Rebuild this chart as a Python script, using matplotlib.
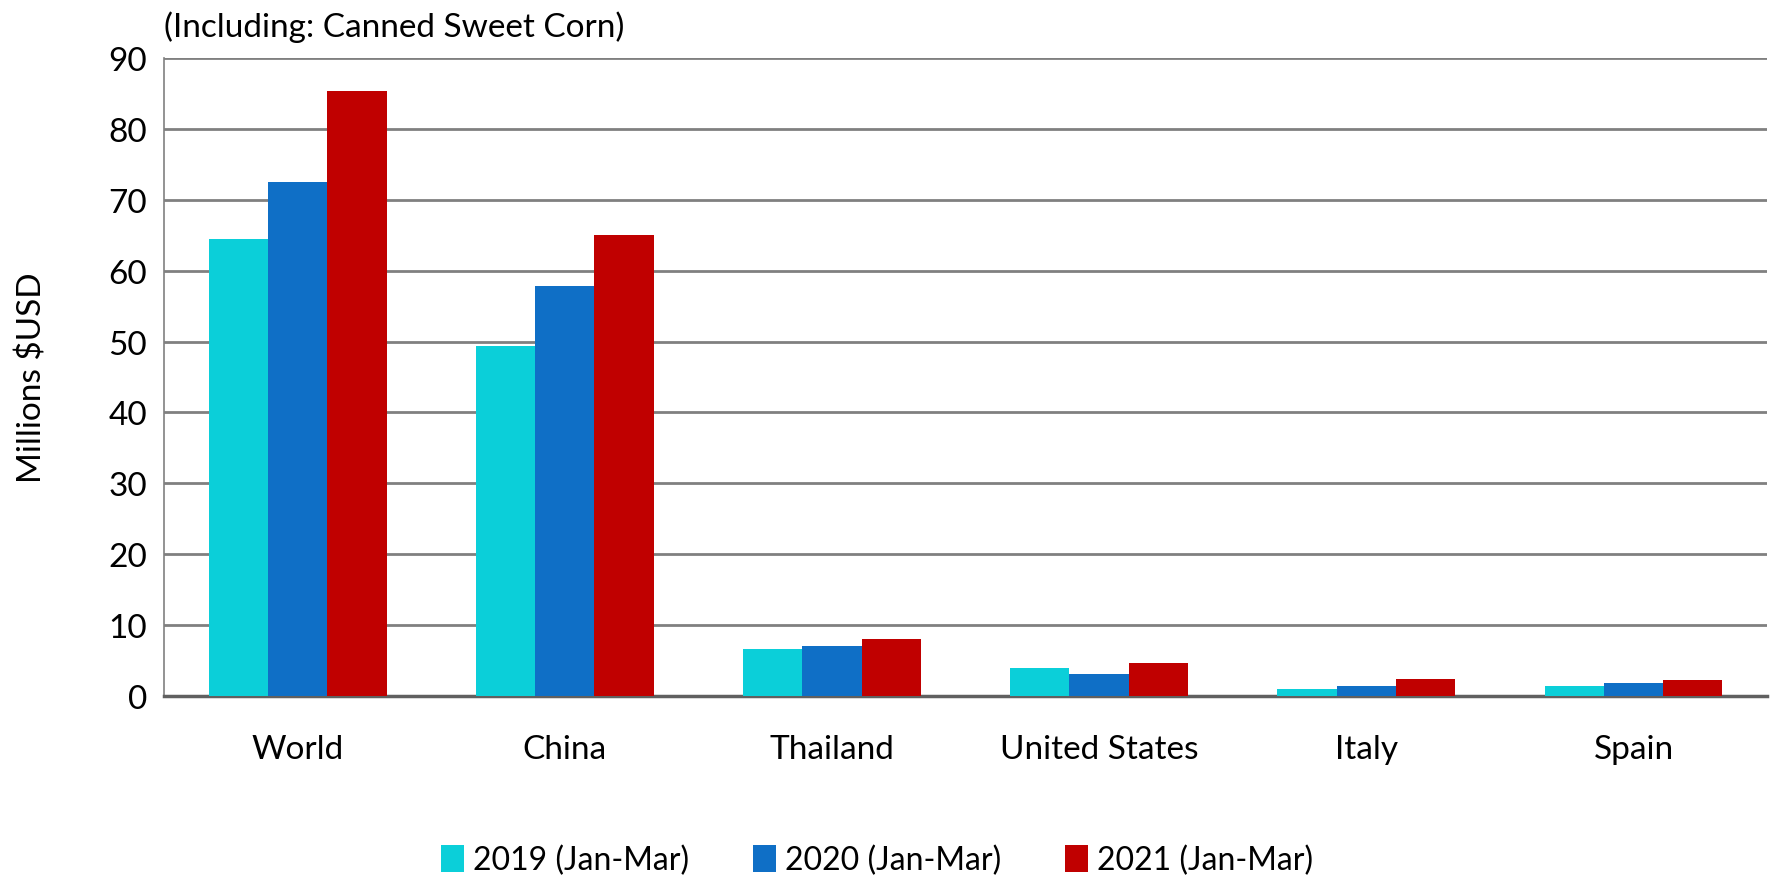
import numpy as np
import matplotlib
matplotlib.use("Agg")
import matplotlib.pyplot as plt

plt.rcParams['font.family'] = ['Lato', 'DejaVu Sans']

countries = ["World", "China", "Thailand", "United States", "Italy", "Spain"]
series_names = ["2019 (Jan-Mar)", "2020 (Jan-Mar)", "2021 (Jan-Mar)"]
v2019 = [64.4, 49.3, 6.7, 4.0, 1.05, 1.4]
v2020 = [72.5, 57.8, 7.0, 3.1, 1.4, 1.8]
v2021 = [85.3, 65.0, 8.1, 4.6, 2.35, 2.2]
colors = ["#0BCFD9", "#0F6FC6", "#C00000"]

fig = plt.figure(figsize=(17.76, 8.79), dpi=100)
ax = fig.add_axes([0.0923, 0.207, 0.9027, 0.726])

x = np.arange(len(countries))
w = 0.222
for i, (vals, name) in enumerate(zip([v2019, v2020, v2021], series_names)):
    ax.bar(x + (i - 1) * w, vals, width=w, color=colors[i], label=name, zorder=3)

ax.set_xlim(-0.5, len(countries) - 0.5)
ax.set_ylim(0, 90)
ax.set_yticks(range(0, 91, 10))
ax.yaxis.grid(True, color="#808080", linewidth=2, zorder=0)
ax.set_xticks(x)
ax.set_xticklabels(countries)
ax.tick_params(axis="both", length=0, labelsize=24)
ax.tick_params(axis="x", pad=27)
ax.tick_params(axis="y", pad=12)

for s in ["top", "right"]:
    ax.spines[s].set_visible(False)
ax.spines["left"].set_color("#808080")
ax.spines["left"].set_linewidth(1.2)
ax.spines["bottom"].set_color("#606060")
ax.spines["bottom"].set_linewidth(2.5)

ax.set_ylabel("Millions $USD", fontsize=24, labelpad=44)
ax.text(0.0, 1.025, "(Including: Canned Sweet Corn)", transform=ax.transAxes,
        fontsize=24, ha="left", va="bottom")

fig.legend(loc="center", bbox_to_anchor=(0.494, 0.02), ncol=3, frameon=False,
           fontsize=23, handlelength=0.7, handleheight=0.9, handletextpad=0.3,
           columnspacing=2.0)

fig.savefig("out.png", dpi=100)
